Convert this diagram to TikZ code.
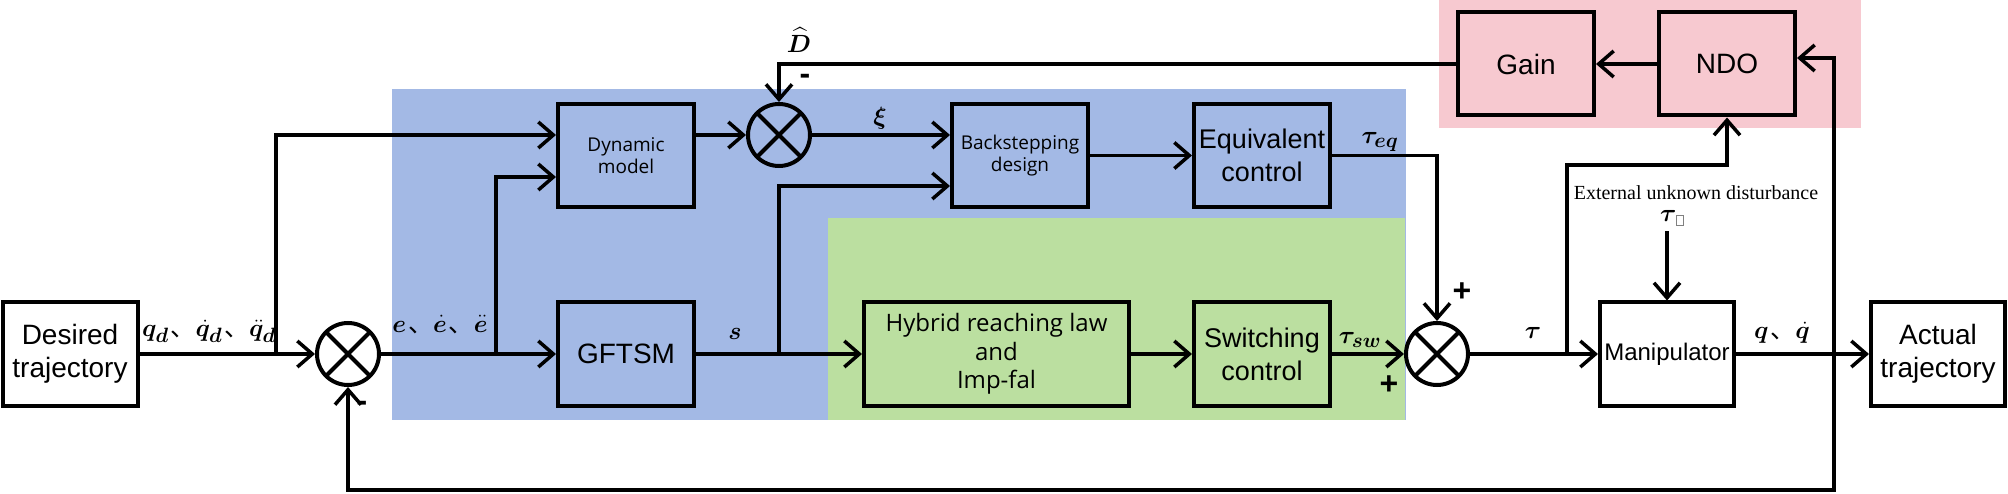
\documentclass[tikz,border=0pt]{standalone}
\usepackage{amsmath}
\usepackage{bm}
\usepackage{fontspec}
\setmainfont{Liberation Sans}
\newfontfamily\osans{Open Sans}
\newfontfamily\serifx{Liberation Serif}
\newfontfamily\cjk{Noto Sans CJK SC}
\usetikzlibrary{arrows.meta}
\definecolor{bgblue}{HTML}{A3B9E5}
\definecolor{bggreen}{HTML}{BBDFA0}
\definecolor{bgpink}{HTML}{F7C9D0}
\newcommand{\dun}{\hspace{2pt}{\cjk 、}}
\tikzset{
  blk/.style={draw, line width=4pt, minimum width=136pt, minimum height=103pt, inner sep=0pt, align=center, font=\fontsize{28}{33}\selectfont},
  arr/.style={line width=3.5pt, -{Straight Barb[length=15pt,width=26pt]}},
  sumc/.style={circle, draw, line width=4pt, minimum size=62pt, inner sep=0pt, fill=white,
    path picture={\draw[line width=4pt] (path picture bounding box.north west) -- (path picture bounding box.south east)
      (path picture bounding box.north east) -- (path picture bounding box.south west);}},
  lbl/.style={inner sep=0pt, font=\fontsize{24.88}{28}\selectfont},
  sgn/.style={inner sep=0pt, font=\bfseries\fontsize{32}{34}\selectfont},
}
\begin{document}
\begin{tikzpicture}[x=1pt,y=-1pt]
\useasboundingbox (0,0) rectangle (2008,494);
% background regions
\fill[bgblue] (392,89) rectangle (1406,420);
\fill[bggreen] (828,218) rectangle (1405,420);
\fill[bgpink] (1439,0) rectangle (1861,128);
% blocks
\node[blk, minimum width=135pt] (des) at (70,354) {Desired\\trajectory};
\node[blk, fill=bgblue, font=\osans\fontsize{19}{22}\selectfont] (dyn) at (626,155.5) {Dynamic\\model};
\node[blk, fill=bgblue] (gft) at (626,354) {GFTSM};
\node[blk, fill=bgblue, font=\osans\fontsize{19}{22}\selectfont] (bks) at (1020,155.5) {Backstepping\\design};
\node[blk, fill=bgblue, font=\fontsize{27}{33}\selectfont] (eqc) at (1262,155.5) {Equivalent\\control};
\node[blk, fill=bggreen, minimum width=265pt, font=\osans\fontsize{24}{28.5}\selectfont] (hyb) at (996.5,354) {Hybrid reaching law\\and\\Imp-fal};
\node[blk, fill=bggreen, font=\fontsize{27}{33}\selectfont] (swc) at (1262,354) {Switching\\control};
\node[blk, fill=white, minimum width=134pt, font=\fontsize{24}{28}\selectfont] (man) at (1667,354) {Manipulator};
\node[blk, fill=white, minimum width=134pt] (act) at (1938,354) {Actual\\trajectory};
\node[blk, fill=bgpink] (gain) at (1526,64) {Gain};
\node[blk, fill=bgpink] (ndo) at (1727,64) {NDO};
% summing junctions
\node[sumc] (s1) at (348,354) {};
\node[sumc, fill=bgblue] (s2) at (779,135) {};
\node[sumc] (s3) at (1437,354) {};
% junction coordinates
\coordinate (j1) at (276,354);
\coordinate (j2) at (496,354);
\coordinate (j3) at (779,354);
\coordinate (j4) at (1567,354);
\coordinate (k1) at (1567,165);
\coordinate (j5) at (1834,354);
\coordinate (b1) at (1834,490);
% connectors
\draw[arr] (des.east) -- (s1.west);
\draw[arr] (j1) |- ([yshift=20.5pt]dyn.west);
\draw[arr] (s1.east) -- (gft.west);
\draw[arr] (j2) |- ([yshift=-21.5pt]dyn.west);
\draw[arr] ([yshift=20.5pt]dyn.east) -- (s2.west);
\draw[arr] (s2.east) -- ([yshift=20.5pt]bks.west);
\draw[arr] (gft.east) -- (hyb.west);
\draw[arr] (j3) |- ([yshift=-30.5pt]bks.west);
\draw[arr] (bks.east) -- (eqc.west);
\draw[arr] (eqc.east) -| (s3.north);
\draw[arr] (hyb.east) -- (swc.west);
\draw[arr] (swc.east) -- (s3.west);
\draw[arr] (s3.east) -- (man.west);
\draw[arr] (j4) -- (k1) -| (ndo.south);
\draw[arr] (man.east) -- (act.west);
\draw[arr] (j5) |- ([yshift=6pt]ndo.east);
\draw[arr] (j5) -- (b1) -| (s1.south);
\draw[arr] (ndo.west) -- (gain.east);
\draw[arr] (gain.west) -| (s2.north);
% disturbance
\node[font=\serifx\fontsize{20}{24}\selectfont, anchor=base, inner sep=0pt] (dist) at (1696,200) {External unknown disturbance};
\node[lbl] (tex) at (1672,218) {$\bm{\tau}$\raisebox{-4pt}{\color{gray}\setlength\fboxsep{0pt}\setlength\fboxrule{0.8pt}\fbox{\rule{0pt}{9pt}\hspace{6pt}}}};
\coordinate (dtop) at ([yshift=-5pt]tex.south);
\draw[arr] (dtop -| man.north) -- (man.north);
% labels
\node[lbl, anchor=base] (lq) at (209,337) {$\bm{q}_{\bm{d}}$\dun$\bm{\dot q}_{\bm{d}}$\dun$\bm{\ddot q}_{\bm{d}}$};
\node[lbl, anchor=base] (le) at (440,332) {$\bm{e}$\dun$\bm{\dot e}$\dun$\bm{\ddot e}$};
\node[lbl, anchor=base] (ls) at (735,340) {$\bm{s}$};
\node[lbl] (lxi) at (880,118) {$\bm{\xi}$};
\node[lbl] (ldh) at (799,40) {$\widehat{\bm{D}}$};
\node[lbl] (lteq) at (1380,142) {$\bm{\tau}_{\bm{eq}}$};
\node[lbl] (ltsw) at (1360,340) {$\bm{\tau}_{\bm{sw}}$};
\node[lbl] (ltau) at (1533,333) {$\bm{\tau}$};
\node[lbl] (lqo) at (1782,333) {$\bm{q}$\dun$\bm{\dot q}$};
% signs
\node[sgn] (m1) at (362,406) {-};
\node[sgn] (m2) at (805,79) {-};
\node[sgn] (p1) at (1462,292) {+};
\node[sgn] (p2) at (1389,385) {+};
\end{tikzpicture}
\end{document}
